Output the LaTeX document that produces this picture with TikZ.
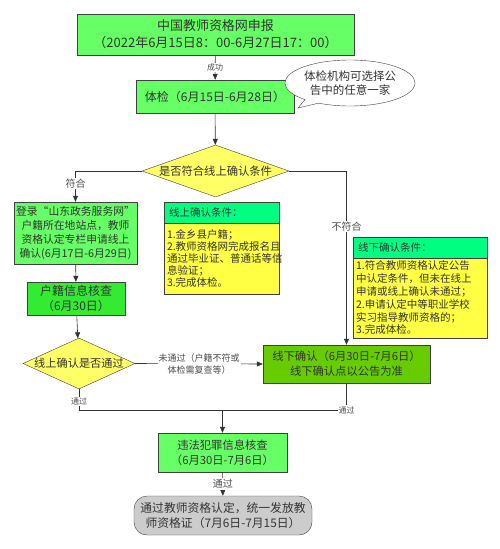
\documentclass[tikz,border=0pt]{standalone}
\usepackage{fontspec}
\setmainfont{Noto Sans CJK SC}
\usetikzlibrary{shapes.geometric, shapes.callouts, arrows.meta, shadows}

\definecolor{boxgreen}{RGB}{102,255,102}
\definecolor{deepgreen}{RGB}{51,235,51}
\definecolor{leafgreen}{RGB}{102,204,0}
\definecolor{headgreen}{RGB}{0,255,128}
\definecolor{decyellow}{RGB}{255,255,102}
\definecolor{noteyellow}{RGB}{255,255,68}
\definecolor{endgray}{RGB}{204,204,204}

\begin{document}
\begin{tikzpicture}[x=1pt, y=-1pt,
    box/.style={draw=black!75, fill=boxgreen, inner sep=0pt, align=center, text=black!80},
    dec/.style={diamond, draw=black!75, fill=decyellow, inner sep=0pt, text=black!80},
    head/.style={draw=black!75, fill=headgreen, inner xsep=5pt, inner ysep=0pt, align=left, text=black!80,
        drop shadow={shadow xshift=1.2pt, shadow yshift=-1.2pt, fill=black!35}},
    note/.style={draw=black!75, fill=noteyellow, inner xsep=3pt, inner ysep=0pt, align=left, text=black!80,
        drop shadow={shadow xshift=1.2pt, shadow yshift=-1.2pt, fill=black!35}},
    lbl/.style={fill=white, inner sep=1pt, text=black!70, font=\fontsize{8}{9}\selectfont},
    arr/.style={-{Triangle[length=6pt, width=5pt]}, draw=black!80, line width=0.6pt},
    ln/.style={draw=black!80, line width=0.6pt}]
    \useasboundingbox (0,0) rectangle (500,549);

    \node[box, minimum width=277, minimum height=41, font=\fontsize{13}{17}\selectfont] (report) at (215.5,34.5)
        {中国教师资格网申报\\（2022年6月15日8：00-6月27日17：00）};
    \node[box, minimum width=158, minimum height=33, font=\fontsize{12}{14}\selectfont] (check) at (215,96.5)
        {体检（6月15日-6月28日）};
    \node[ellipse callout, draw=black!75, fill=white, inner sep=0pt, align=center, text=black!80,
        minimum width=106, minimum height=46, callout absolute pointer={(298,108)},
        font=\fontsize{11.5}{14}\selectfont] (tip) at (350,83)
        {体检机构可选择公\\告中的任意一家};

    \node[dec, minimum width=147, minimum height=52, font=\fontsize{11.3}{13}\selectfont] (online) at (215.5,171)
        {\makebox[0pt]{是否符合线上确认条件}};

    \node[box, minimum width=123, minimum height=62, font=\fontsize{10.8}{14}\selectfont] (login) at (75.5,233)
        {登录“山东政务服务网”\\户籍所在地站点，教师\\资格认定专栏申请线上\\确认(6月17日-6月29日)};
    \node[box, fill=deepgreen, minimum width=98, minimum height=33, font=\fontsize{12}{15}\selectfont] (huji) at (76,298.5)
        {户籍信息核查\\（6月30日）};
    \node[dec, minimum width=112, minimum height=51, font=\fontsize{11.2}{13}\selectfont] (pass) at (79,363.5)
        {\makebox[0pt]{线上确认是否通过}};

    % online conditions
    \node[head, text width=105, minimum height=21, font=\fontsize{10.5}{12}\selectfont] (onhead) at (221.5,212.5)
        {线上确认条件：};
    \node[note, text width=109, minimum height=71, font=\fontsize{10.5}{11.8}\selectfont] (onbody) at (221.5,258.5)
        {1.金乡县户籍；\\2.教师资格网完成报名且\\通过毕业证、普通话等信\\息验证；\\3.完成体检。};

    % offline conditions
    \node[head, text width=124, minimum height=21, font=\fontsize{10.5}{12}\selectfont] (offhead) at (420,247.5)
        {线下确认条件：};
    \node[note, text width=128, minimum height=80, font=\fontsize{10.5}{12.8}\selectfont] (offbody) at (420,298)
        {1.符合教师资格认定公告\\中认定条件，但未在线上\\申请或线上确认未通过；\\2.申请认定中等职业学校\\实习指导教师资格的；\\3.完成体检。};

    \node[box, fill=leafgreen, minimum width=167, minimum height=38, font=\fontsize{11.3}{15}\selectfont] (offline) at (346.5,364)
        {线下确认（6月30日-7月6日）\\线下确认点以公告为准};

    \node[box, minimum width=129, minimum height=39, font=\fontsize{11.3}{15}\selectfont] (crime) at (222.5,452.5)
        {违法犯罪信息核查\\（6月30日-7月6日）};
    \node[box, fill=endgray, rounded corners=13pt, minimum width=178, minimum height=39,
        font=\fontsize{11.8}{15}\selectfont] (issue) at (223,515.5)
        {通过教师资格认定，统一发放教\\师资格证（7月6日-7月15日）};

    \coordinate (join) at (222.5,410);

    \draw[arr] (report) to node[lbl] {成功} (check);
    \draw[arr] (check) to (online);
    \draw[arr] (online.west) -| node[lbl, pos=0.7, font=\fontsize{10}{11}\selectfont] {符合} (login.north);
    \draw[arr] (online.east) -| node[lbl, pos=0.66, font=\fontsize{10}{11}\selectfont] {不符合} (offline.north);
    \draw[arr] (login) to (huji);
    \draw[arr] (huji) to (pass);
    \draw[arr] (pass.east) to node[lbl, align=center, pos=0.5, font=\fontsize{9}{12}\selectfont]
        {未通过（户籍不符或\\体检需复查等）} (offline.west);
    \draw[ln] (pass.south) |- node[lbl, pos=0.3] {通过} (join);
    \draw[ln] (offline.south) |- node[lbl, pos=0.5] {通过} (join);
    \draw[arr] (join) to (crime.north);
    \draw[arr] (crime) to node[lbl, font=\fontsize{10}{11}\selectfont] {通过} (issue);
\end{tikzpicture}
\end{document}
